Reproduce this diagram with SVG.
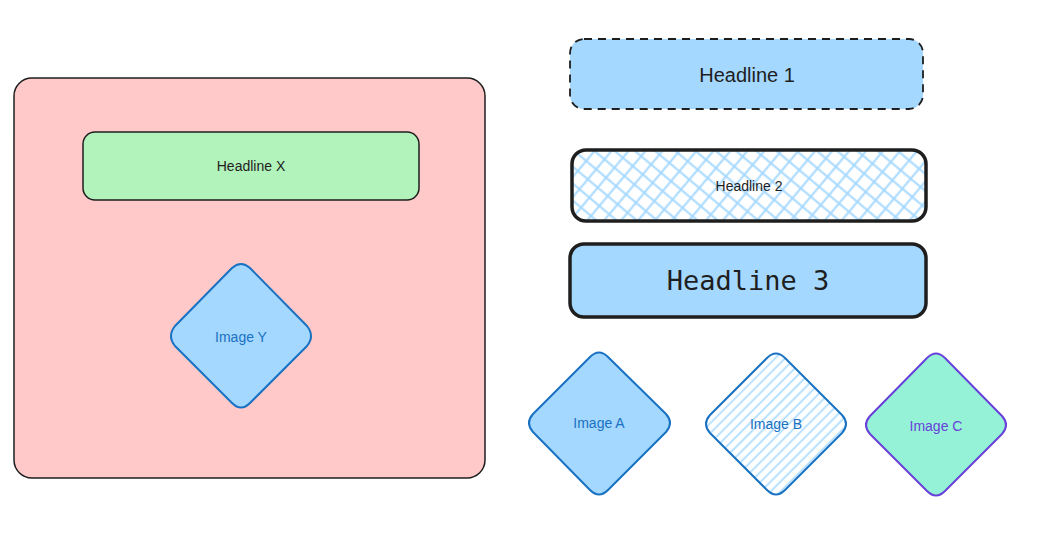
<svg xmlns="http://www.w3.org/2000/svg" width="1064" height="541" viewBox="0 0 1064 541">
<style>
.lbl{font-family:"Liberation Sans",Arial,sans-serif;text-anchor:middle;dominant-baseline:central}
.dark{fill:#1e1e1e}
.blue{fill:#1971c2}
.violet{fill:#6741d9}
.dia{stroke:#1971c2;stroke-width:2;stroke-linejoin:round}
</style>
<defs>
<pattern id="cross" patternUnits="userSpaceOnUse" width="13" height="13" patternTransform="rotate(40)">
<line x1="0" y1="6.5" x2="13" y2="6.5" stroke="#a5d8ff" stroke-width="2"/>
<line x1="6.5" y1="0" x2="6.5" y2="13" stroke="#a5d8ff" stroke-width="2"/>
</pattern>
<pattern id="hatch" patternUnits="userSpaceOnUse" width="7" height="7" patternTransform="rotate(-45)">
<line x1="0" y1="3.5" x2="7" y2="3.5" stroke="#a5d8ff" stroke-width="1.6"/>
</pattern>
</defs>
<rect width="1064" height="541" fill="#ffffff"/>
<g id="frame">
<rect x="14" y="78" width="471" height="400" rx="18" fill="#ffc9c9" stroke="#1e1e1e" stroke-width="1.5"/>
</g>
<g id="headlineX">
<rect x="83" y="132" width="336" height="68" rx="12" fill="#b2f2bb" stroke="#1e1e1e" stroke-width="1.5"/>
<text class="lbl dark" x="251" y="166" font-size="14">Headline X</text>
</g>
<g id="imageY">
<path class="dia" d="M232,268 Q241,260 250,268 L307,326 Q315,336 307,346 L250,403 Q241,412 232,403 L175,346 Q167,336 175,326 Z" fill="#a5d8ff"/>
<text class="lbl blue" x="241" y="337" font-size="14">Image Y</text>
</g>
<g id="headline1">
<rect x="570" y="39" width="353" height="70" rx="14" fill="#a5d8ff" stroke="#1e1e1e" stroke-width="1.8" stroke-dasharray="8 6"/>
<text class="lbl dark" x="747" y="75" font-size="20">Headline 1</text>
</g>
<g id="headline2">
<rect x="572" y="150" width="354" height="71" rx="14" fill="#ffffff"/>
<rect x="572" y="150" width="354" height="71" rx="14" fill="url(#cross)" stroke="#1e1e1e" stroke-width="3.5"/>
<text class="lbl dark" x="749" y="186" font-size="14">Headline 2</text>
</g>
<g id="headline3">
<rect x="570" y="244" width="356" height="73" rx="14" fill="#a5d8ff" stroke="#1e1e1e" stroke-width="3.5"/>
<text class="lbl dark" x="748" y="280" font-size="27" style="font-family:'DejaVu Sans Mono','Liberation Mono',monospace">Headline 3</text>
</g>
<g id="imageA">
<path class="dia" d="M590,357 Q599,348 608,357 L666,414 Q674,423 666,432 L608,490 Q599,499 590,490 L533,432 Q525,423 533,414 Z" fill="#a5d8ff"/>
<text class="lbl blue" x="599" y="423" font-size="14">Image A</text>
</g>
<g id="imageB">
<path d="M767,358 Q776,349 785,358 L842,415 Q850,424 842,433 L785,490 Q776,499 767,490 L710,433 Q702,424 710,415 Z" fill="#ffffff"/>
<path class="dia" d="M767,358 Q776,349 785,358 L842,415 Q850,424 842,433 L785,490 Q776,499 767,490 L710,433 Q702,424 710,415 Z" fill="url(#hatch)"/>
<text class="lbl blue" x="776" y="424" font-size="14">Image B</text>
</g>
<g id="imageC">
<path d="M927,358 Q936,349 945,358 L1002,416 Q1010,425 1002,434 L945,491 Q936,500 927,491 L870,434 Q862,425 870,416 Z" fill="#96f2d7" stroke="#6741d9" stroke-width="2" stroke-linejoin="round"/>
<text class="lbl violet" x="936" y="426" font-size="14">Image C</text>
</g>
<g id="connectors"></g>
</svg>
